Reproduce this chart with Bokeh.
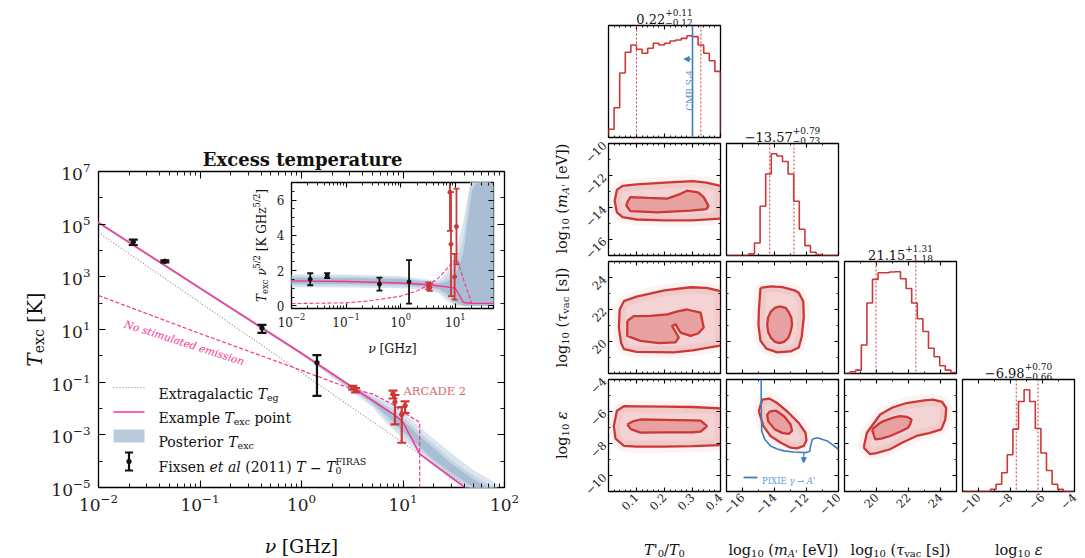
import math
import numpy as np
from bokeh.plotting import figure
from bokeh.models import (LinearAxis, LogAxis, FixedTicker, Range1d, LogScale,
                          Span, Arrow, NormalHead, CustomJSTickFormatter)
from bokeh.core.properties import value
from bokeh.embed import file_html
from bokeh.resources import INLINE

W, H = 1085, 558
SERIF = "DejaVu Serif"
PINK = "#f7338f"
RED = "#cc3838"
BLACK = "#111111"
BAND = ["#dbe5ef", "#c6d5e4", "#a9bed3"]
BLUE = "#3f7fbf"

# ---------------- data: left panel (main) ----------------
nu_eg = [0.01, 100.0]
T_eg = [4.8e4, 1.1e-6]

nu_example = [0.01, 0.1, 1.0, 3.3, 6.0, 8.4, 10.0, 14.6, 40.0, 100.0]
T_example = [1.15e5, 370.0, 1.25, 0.058, 0.0125, 5.4e-3, 3.0e-3, 1.9e-4, 1.05e-5, 4e-7]

nu_nostim = [0.01, 0.1, 1.0, 3.0, 5.0, 8.0, 10.0, 14.6, 14.6]
T_nostim = [195.0, 7.0, 0.28, 0.058, 0.036, 0.014, 0.0072, 0.003, 1e-7]

nu_post = [0.01, 0.1, 1, 3, 5, 7, 10, 14, 20, 30, 50, 80, 100]
logT_lo_95 = [5.00, 2.51, 0.03, -1.30, -1.95, -2.60, -3.15, -3.65, -4.20, -4.70, -5.20, -5.60, -5.80]
logT_hi_95 = [5.12, 2.63, 0.17, -1.05, -1.50, -1.75, -2.15, -2.65, -3.15, -3.70, -4.35, -4.80, -5.10]
logT_lo_68 = [5.02, 2.53, 0.05, -1.25, -1.85, -2.45, -3.00, -3.50, -4.05, -4.55, -5.10, -5.50, -5.70]
logT_hi_68 = [5.10, 2.61, 0.15, -1.08, -1.56, -1.90, -2.30, -2.85, -3.35, -3.95, -4.55, -5.00, -5.25]
logT_lo_50 = [5.04, 2.55, 0.07, -1.20, -1.78, -2.30, -2.85, -3.40, -3.95, -4.45, -5.00, -5.40, -5.60]
logT_hi_50 = [5.08, 2.59, 0.13, -1.12, -1.62, -2.00, -2.45, -3.00, -3.50, -4.10, -4.70, -5.15, -5.40]

nu_fixsen = [0.022, 0.045, 0.408, 1.42]
T_fixsen = [2.1e4, 3.9e3, 11.3, 0.55]
dT_fixsen = [4.8e3, 330.0, 3.8, 0.52]

nu_arcade = [3.20, 3.41, 7.97, 8.33, 9.72, 10.49]
T_arcade = [0.062, 0.050, 0.036, 0.0175, 0.0059, 0.0128]
dT_arcade = [0.010, 0.009, 0.012, 0.015, 0.0054, 0.006]

# ---------------- data: inset (T_exc * nu^(5/2)) ----------------
in_fixsen = [1.51, 1.72, 1.23, 1.36]
in_dfixsen = [0.34, 0.14, 0.37, 1.23]
in_arcade = [1.13, 1.05, 6.45, 3.50, 1.65, 4.50]
in_darcade = [0.20, 0.20, 2.20, 2.95, 1.30, 2.15]
in_nu_example = [0.01, 0.1, 1.0, 3.3, 6.0, 8.0, 10.0, 14.1, 20.0, 50.0]
in_example = [1.42, 1.38, 1.30, 1.20, 1.10, 1.05, 1.00, 0.19, 0.15, 0.14]
in_nu_nostim = [0.01, 0.1, 0.3, 1.0, 2.0, 3.3, 5.0, 7.0, 9.0, 10.8, 14.5, 20.0, 50.0]
in_nostim = [0.13, 0.17, 0.30, 0.55, 0.85, 1.20, 1.60, 2.10, 2.50, 2.65, 1.40, 0.13, 0.13]
in_nu_post = [0.01, 0.1, 1.0, 3.0, 5.0, 7.0, 10.0, 14.0, 20.0, 30.0, 50.0]
in_lo_95 = [1.05, 1.04, 1.00, 0.92, 0.70, 0.30, 0.0, 0.0, 0.0, 0.0, 0.0]
in_hi_95 = [1.80, 1.78, 1.70, 1.50, 1.45, 1.90, 2.90, 4.80, 7.50, 7.50, 7.50]
in_lo_68 = [1.15, 1.14, 1.10, 1.00, 0.85, 0.50, 0.05, 0.0, 0.0, 0.0, 0.0]
in_hi_68 = [1.70, 1.68, 1.60, 1.42, 1.36, 1.60, 2.30, 3.80, 7.50, 7.50, 7.50]
in_lo_50 = [1.25, 1.24, 1.20, 1.08, 0.95, 0.70, 0.20, 0.0, 0.0, 0.0, 0.0]
in_hi_50 = [1.60, 1.58, 1.52, 1.35, 1.26, 1.35, 1.80, 3.00, 6.50, 7.50, 7.50]

# ---------------- data: corner plot ----------------
rng_T = (0.0, 0.4)
rng_m = (-17.0, -10.0)
rng_tau = (18.0, 25.0)
rng_eps = (-11.0, -4.0)

hist_T = [25, 90, 195, 258, 280, 267, 255, 270, 285, 280, 285, 292, 295, 300, 308, 305, 280, 255, 232, 200]
hist_m = [0, 0, 0, 0, 5, 38, 150, 248, 310, 303, 286, 248, 165, 80, 30, 10, 3, 0, 0, 0]
hist_tau = [0, 5, 10, 85, 210, 280, 300, 300, 302, 303, 282, 253, 210, 163, 125, 75, 50, 23, 10, 3]
hist_eps = [0, 0, 0, 0, 0, 7, 22, 57, 112, 190, 274, 310, 274, 192, 117, 64, 22, 7, 0, 0]

q_T = [0.10, 0.33]
q_m = [-14.30, -12.78]
q_tau = [19.97, 22.46]
q_eps = [-7.64, -6.28]
titles = [("0.22", "+0.11", "\u22120.12"), ("\u221213.57", "+0.79", "\u22120.73"),
          ("21.15", "+1.31", "\u22121.18"), ("\u22126.98", "+0.70", "\u22120.66")]
cmbs4_T = 0.30

# contours (outer = 95%, inner = 68%)
c_Tm_out = ([0.4, 0.35, 0.3, 0.2, 0.1, 0.05, 0.03, 0.022, 0.03, 0.05, 0.1, 0.2, 0.3, 0.4],
            [-12.65, -12.45, -12.35, -12.45, -12.55, -12.65, -12.9, -13.6, -14.3, -14.6, -14.75, -14.8, -14.8, -14.7])
c_Tm_in = ([0.067, 0.078, 0.14, 0.21, 0.25, 0.28, 0.32, 0.34, 0.357, 0.35, 0.293, 0.174, 0.079, 0.064],
           [-13.67, -13.35, -13.4, -13.45, -13.2, -12.95, -13.05, -13.35, -13.9, -14.1, -14.2, -14.3, -14.23, -13.9])
c_Ttau_out = ([0.4, 0.35, 0.293, 0.2, 0.1, 0.055, 0.04, 0.037, 0.045, 0.055, 0.1, 0.233, 0.3, 0.394, 0.4],
              [23.15, 23.35, 23.39, 23.2, 22.8, 22.52, 22.0, 20.87, 19.9, 19.53, 19.35, 19.32, 19.45, 19.73, 19.76])
c_Ttau_in = ([0.067, 0.09, 0.15, 0.21, 0.25, 0.28, 0.329, 0.34, 0.32, 0.293, 0.257, 0.239, 0.227, 0.251, 0.239, 0.18, 0.114, 0.067],
             [21.28, 21.59, 21.6, 21.7, 21.9, 22.0, 21.8, 20.87, 20.5, 20.35, 20.56, 21.08, 20.97, 20.25, 19.94, 19.9, 20.04, 20.35])
c_mtau_out = ([-14.875, -14.2, -13.5, -12.75, -12.48, -12.2, -12.17, -12.3, -12.48, -13.0, -13.83, -14.5, -14.875, -15.0, -14.98],
              [23.35, 23.45, 23.4, 23.2, 23.04, 22.5, 21.49, 20.3, 19.63, 19.38, 19.32, 19.55, 20.04, 21.0, 21.9])
c_mtau_in = ([-13.68, -13.3, -13.13, -12.95, -12.9, -13.0, -13.13, -13.4, -13.68, -13.98, -14.23, -14.4, -14.46, -14.4, -14.23, -13.98],
             [22.2, 22.1, 21.86, 21.5, 21.05, 20.6, 20.24, 19.98, 19.9, 19.98, 20.24, 20.6, 21.05, 21.5, 21.86, 22.1])
c_Teps_out = ([0.4, 0.3, 0.2, 0.1, 0.055, 0.03, 0.019, 0.025, 0.055, 0.1, 0.2, 0.3, 0.4],
              [-5.8, -5.72, -5.7, -5.68, -5.67, -5.95, -6.91, -7.7, -8.15, -8.2, -8.2, -8.17, -8.1])
c_Teps_in = ([0.067, 0.09, 0.114, 0.2, 0.3, 0.329, 0.352, 0.329, 0.3, 0.2, 0.114, 0.08],
             [-6.81, -6.6, -6.5, -6.52, -6.55, -6.57, -6.91, -7.26, -7.3, -7.3, -7.32, -7.1])
c_meps_out = ([-14.98, -14.77, -14.3, -13.83, -13.2, -12.5, -12.06, -12.0, -12.17, -12.6, -13.0, -13.6, -14.25, -14.7],
              [-5.98, -5.26, -5.2, -5.47, -6.0, -6.7, -7.33, -7.8, -8.15, -8.3, -8.26, -7.95, -7.53, -6.9])
c_meps_in = ([-14.3, -13.9, -13.4, -13.0, -12.9, -13.1, -13.5, -14.0, -14.4, -14.46],
             [-6.0, -5.95, -6.3, -6.8, -7.2, -7.4, -7.35, -7.1, -6.6, -6.2])
c_taueps_out = ([19.2, 19.4, 20.23, 21.0, 21.88, 23.0, 23.53, 24.1, 24.36, 24.3, 24.05, 23.3, 22.5, 21.6, 20.85, 20.0, 19.6],
                [-8.26, -7.33, -6.19, -5.75, -5.47, -5.3, -5.26, -5.4, -5.78, -6.5, -7.12, -7.35, -7.53, -7.95, -8.36, -8.6, -8.67])
c_taueps_in = ([19.72, 20.1, 20.44, 21.0, 21.47, 21.9, 22.19, 22.1, 21.98, 21.5, 20.85, 20.3, 19.92],
               [-7.12, -6.8, -6.6, -6.4, -6.29, -6.33, -6.5, -6.8, -7.01, -7.25, -7.53, -7.7, -7.74])
pixie_m = [-14.83, -14.83, -14.8, -14.6, -14.25, -13.83, -13.42, -12.8, -12.06, -11.8, -11.75, -11.64, -11.33, -10.7, -10.0]
pixie_eps = [-3.9, -5.5, -7.22, -7.75, -8.15, -8.34, -8.46, -8.53, -8.57, -8.5, -8.2, -7.74, -7.64, -7.84, -8.36]
pixie_arrow_m = -12.17

# ---------------- helpers ----------------
WID = {'0': .636, '1': .636, '2': .636, '3': .636, '4': .636, '5': .636, '6': .636, '7': .636,
       '8': .636, '9': .636, ' ': .318, '.': .318, ',': .318, '(': .39, ')': .39, '[': .39, ']': .39,
       '/': .337, '+': .838, '\u2212': .838, '-': .338, "'": .275, '\u2192': .838,
       'a': .596, 'b': .640, 'c': .560, 'd': .640, 'e': .592, 'f': .370, 'g': .640, 'h': .644,
       'i': .320, 'j': .310, 'k': .606, 'l': .320, 'm': .948, 'n': .644, 'o': .602, 'p': .640,
       'q': .640, 'r': .478, 's': .513, 't': .402, 'u': .644, 'v': .565, 'w': .856, 'x': .564,
       'y': .565, 'z': .527, 'A': .722, 'B': .735, 'C': .765, 'D': .802, 'E': .730, 'F': .694,
       'G': .799, 'H': .872, 'I': .395, 'K': .747, 'L': .664, 'M': 1.024, 'N': .875, 'O': .820,
       'P': .673, 'R': .753, 'S': .685, 'T': .667, 'X': .712, '\u03bd': .57, '\u03b5': .5,
       '\u03c4': .55, '\u03b3': .57}


def tw(s, size, style="normal"):
    w = sum(WID.get(ch, 0.6) for ch in s) * size
    return w * 1.08 if style == "bold" else w


def N(t, s, r=0.0, adv=True):
    return (t, s, r, "normal", adv)


def It(t, s, r=0.0, adv=True):
    return (t, s, r, "italic", adv)


ABS = {"position": "absolute", "left": "0px", "top": "0px"}


def mkfig(xr, yr, box, xlog=False, ylog=False, bg="white"):
    l, t, r, b = box
    p = figure(width=W, height=H, x_range=xr, y_range=yr, x_axis_type=None, y_axis_type=None,
               toolbar_location=None, output_backend="svg",
               min_border_left=l, min_border_right=W - r, min_border_top=t, min_border_bottom=H - b)
    if xlog:
        p.x_scale = LogScale()
    if ylog:
        p.y_scale = LogScale()
    p.border_fill_color = None
    p.background_fill_color = bg
    p.outline_line_color = "black"
    p.outline_line_width = 1.3
    p.styles = dict(ABS)
    return p


def add_axis(p, side, cls, ticks, minor, fs=12, show=False, orient=None, fmt=None,
             standoff=5, tin=5, tmin=3):
    ax = cls(ticker=FixedTicker(ticks=ticks, minor_ticks=minor))
    ax.axis_line_color = None
    ax.major_tick_in = int(tin)
    ax.major_tick_out = 0
    ax.minor_tick_in = int(tmin)
    ax.minor_tick_out = 0
    ax.major_tick_line_width = 1.1
    ax.minor_tick_line_width = 0.9
    ax.major_label_text_font = SERIF
    ax.major_label_text_font_size = f"{fs}px"
    ax.major_label_standoff = int(standoff)
    ax.major_label_text_color = "#222222" if show else None
    if orient is not None:
        ax.major_label_orientation = orient
    if fmt is not None:
        ax.formatter = fmt
    p.add_layout(ax, side)
    return ax


def errbars(p, x, y, e, color, cap=8, lw=2.0, dot=4.5):
    lo = [a - b for a, b in zip(y, e)]
    hi = [a + b for a, b in zip(y, e)]
    p.segment(x0=x, y0=lo, x1=x, y1=hi, line_color=color, line_width=lw)
    p.scatter(x=x, y=lo, marker="dash", size=cap, line_color=color, line_width=lw)
    p.scatter(x=x, y=hi, marker="dash", size=cap, line_color=color, line_width=lw)
    p.scatter(x=x, y=y, marker="circle", size=dot, fill_color=color, line_color=color)


def decades(lo, hi):
    return [k * 10.0 ** e for e in range(lo, hi) for k in range(2, 10)]


figs = []

# ================= main panel =================
pm = mkfig(Range1d(0.01, 100), Range1d(1e-5, 1e7), (98, 171, 504, 487), True, True)
for (lo, hi), c in zip([(logT_lo_95, logT_hi_95), (logT_lo_68, logT_hi_68), (logT_lo_50, logT_hi_50)], BAND):
    pm.varea(x=nu_post, y1=[10 ** v for v in lo], y2=[10 ** v for v in hi], fill_color=c)
pm.line(nu_eg, T_eg, line_color="#8a8a8a", line_width=1.1, line_dash="1 2")
pm.line(nu_nostim, T_nostim, line_color=PINK, line_width=1.2, line_dash="4 2")
pm.line(nu_example, T_example, line_color=PINK, line_width=1.5)
errbars(pm, nu_fixsen, T_fixsen, dT_fixsen, BLACK, cap=9, lw=2.2)
errbars(pm, nu_arcade, T_arcade, dT_arcade, RED, cap=9, lw=2.2)
xmaj = [0.01, 0.1, 1, 10, 100]
ymaj = [1e-5, 1e-3, 1e-1, 1e1, 1e3, 1e5, 1e7]
ymin = [1e-4, 1e-2, 1, 1e2, 1e4, 1e6]
add_axis(pm, "below", LogAxis, xmaj, decades(-2, 2), fs=17, show=True, standoff=6, tin=7, tmin=4)
add_axis(pm, "above", LogAxis, xmaj, decades(-2, 2), tin=7, tmin=4)
add_axis(pm, "left", LogAxis, ymaj, ymin, fs=17, show=True, standoff=8, tin=7, tmin=4)
add_axis(pm, "right", LogAxis, ymaj, ymin, tin=7, tmin=4)
figs.append(pm)

# ================= inset =================
pi_ = mkfig(Range1d(0.01, 50), Range1d(-0.15, 7.0), (291, 182, 493, 308), True, False)
for (lo, hi), c in zip([(in_lo_95, in_hi_95), (in_lo_68, in_hi_68), (in_lo_50, in_hi_50)], BAND):
    pi_.varea(x=in_nu_post, y1=lo, y2=hi, fill_color=c)
pi_.line(in_nu_nostim, in_nostim, line_color=PINK, line_width=1.1, line_dash="4 2")
pi_.line(in_nu_example, in_example, line_color=PINK, line_width=1.4)
errbars(pi_, nu_fixsen, in_fixsen, in_dfixsen, BLACK, cap=6, lw=1.8, dot=4)
errbars(pi_, nu_arcade, in_arcade, in_darcade, RED, cap=6, lw=1.8, dot=4)
add_axis(pi_, "below", LogAxis, [0.01, 0.1, 1, 10], decades(-2, 2), fs=12, show=True, standoff=4)
add_axis(pi_, "above", LogAxis, [0.01, 0.1, 1, 10], decades(-2, 2))
add_axis(pi_, "left", LinearAxis, [0, 2, 4, 6], [0.5 * k for k in range(0, 15)], fs=12, show=True, standoff=7)
add_axis(pi_, "right", LinearAxis, [0, 2, 4, 6], [0.5 * k for k in range(0, 15)])
figs.append(pi_)

# ================= corner =================
cols = [608, 726, 844, 962]
rows = [25, 143, 261, 379]
S = 112
params = [rng_T, rng_m, rng_tau, rng_eps]
hists = [hist_T, hist_m, hist_tau, hist_eps]
quants = [q_T, q_m, q_tau, q_eps]
majors = [[0.1, 0.2, 0.3, 0.4], [-16, -14, -12, -10], [20, 22, 24], [-10, -8, -6, -4]]
minors = [[0.02 * k for k in range(0, 21)], list(range(-17, -9)), list(range(18, 26)), list(range(-11, -3))]
fmt = CustomJSTickFormatter(code="var v = Math.round(tick*100)/100; return v.toString().replace('-', '\u2212');")


def corner_axes(p, i, j, row_param):
    xl = (i == 3)
    add_axis(p, "below", LinearAxis, majors[j], minors[j], fs=11.5, show=xl,
             orient=math.pi / 4 if xl else None, fmt=fmt, standoff=4, tin=4, tmin=2)
    add_axis(p, "above", LinearAxis, majors[j], minors[j], tin=4, tmin=2)
    if row_param is not None:
        yl = (j == 0)
        add_axis(p, "left", LinearAxis, majors[row_param], minors[row_param], fs=11.5, show=yl,
                 orient=math.pi / 4 if yl else None, fmt=fmt, standoff=4, tin=4, tmin=2)
        add_axis(p, "right", LinearAxis, majors[row_param], minors[row_param], tin=4, tmin=2)


# diagonal histograms
for k in range(4):
    counts = hists[k]
    ymax = 1.1 * max(counts)
    p = mkfig(Range1d(*params[k]), Range1d(0, ymax), (cols[k], rows[k], cols[k] + S, rows[k] + S))
    edges = np.linspace(params[k][0], params[k][1], len(counts) + 1)
    xs, ys = [edges[0]], [0]
    for b, c in enumerate(counts):
        xs += [edges[b], edges[b + 1]]
        ys += [c, c]
    xs.append(edges[-1])
    ys.append(0)
    p.line(xs, ys, line_color=RED, line_width=1.6)
    for q in quants[k]:
        p.add_layout(Span(location=q, dimension="height", line_color=RED, line_width=1.0,
                          line_dash="2 2"))
    if k == 0:
        p.add_layout(Span(location=cmbs4_T, dimension="height", line_color=BLUE, line_width=1.6))
        p.add_layout(Arrow(end=NormalHead(size=5, fill_color=BLUE, line_color=BLUE),
                           x_start=cmbs4_T - 0.005, y_start=0.7 * ymax, x_end=cmbs4_T - 0.03,
                           y_end=0.7 * ymax, line_color=BLUE, line_width=1.2))
    corner_axes(p, k, k, None)
    figs.append(p)

# off-diagonal 2D panels: (row, col, contours)
panels = [
    (1, 0, c_Tm_out, c_Tm_in, False),
    (2, 0, c_Ttau_out, c_Ttau_in, False),
    (2, 1, c_mtau_out, c_mtau_in, True),
    (3, 0, c_Teps_out, c_Teps_in, False),
    (3, 1, c_meps_out, c_meps_in, True),
    (3, 2, c_taueps_out, c_taueps_in, True),
]
for (i, j, cout, cin, closed) in panels:
    p = mkfig(Range1d(*params[j]), Range1d(*params[i]), (cols[j], rows[i], cols[j] + S, rows[i] + S))
    ox, oy = list(cout[0]), list(cout[1])
    ix, iy = list(cin[0]) + [cin[0][0]], list(cin[1]) + [cin[1][0]]
    p.patch(ox, oy, fill_color=RED, fill_alpha=0.07, line_color=RED, line_alpha=0.06, line_width=12)
    p.patch(ox, oy, fill_color=RED, fill_alpha=0.16, line_color=None)
    p.patch(ix, iy, fill_color=RED, fill_alpha=0.32, line_color=None)
    if closed:
        ox, oy = ox + [ox[0]], oy + [oy[0]]
    p.line(ox, oy, line_color=RED, line_width=2.3)
    p.line(ix, iy, line_color=RED, line_width=2.3)
    if (i, j) == (3, 1):
        p.line(pixie_m, pixie_eps, line_color=BLUE, line_width=1.6)
        p.add_layout(Arrow(end=NormalHead(size=5, fill_color=BLUE, line_color=BLUE),
                           x_start=pixie_arrow_m, y_start=-8.57, x_end=pixie_arrow_m, y_end=-9.2,
                           line_color=BLUE, line_width=1.2))
    corner_axes(p, i, j, i)
    figs.append(p)

# ================= overlay for texts / legend =================
ov = figure(width=W, height=H, x_range=Range1d(0, W), y_range=Range1d(H, 0), x_axis_type=None,
            y_axis_type=None, toolbar_location=None, output_backend="svg",
            min_border_left=0, min_border_right=0, min_border_top=0, min_border_bottom=0)
ov.outline_line_color = None
ov.background_fill_color = None
ov.border_fill_color = None
ov.styles = dict(ABS)


def rich(parts, x, y, align="center", angle=0.0, color="#111111"):
    ca, sa = math.cos(angle), math.sin(angle)
    along = (ca, -sa)
    up = (-sa, -ca)
    total = sum(tw(t, s, st) for (t, s, r, st, adv) in parts if adv)
    cur = -total / 2 if align == "center" else (-total if align == "right" else 0.0)
    for (t, s, r, st, adv) in parts:
        lead = len(t) - len(t.lstrip(" "))
        txt = t.strip(" ")
        off = cur + tw(" " * lead, s)
        px = x + along[0] * off + up[0] * r
        py = y + along[1] * off + up[1] * r
        if txt:
            ov.text(x=[px], y=[py], text=[txt], angle=angle, text_font=value(SERIF),
                    text_font_size=f"{s}px", text_font_style=st, text_color=color,
                    text_baseline="alphabetic", text_align="left")
        if adv:
            cur += tw(t, s, st)


# main panel texts
rich([("Excess temperature", 18, 0, "bold", True)], 301, 159)
rich([It("T", 20), N("exc", 14, -4.5), N(" [K]", 20)], 34, 329, angle=math.pi / 2)
rich([It("\u03bd", 19), N(" [GHz]", 19)], 301, 545)
rich([It("No stimulated emission", 10.5)], 184, 342, angle=-0.31, color=PINK)
rich([N("ARCADE 2", 11.5)], 403, 390, align="left", color="#d46a6a")

# legend
LX0, LX1, TX = 113, 144, 158
ov.segment(x0=[LX0], y0=[387], x1=[LX1], y1=[387], line_color="#8a8a8a", line_width=1.1, line_dash="1 2")
ov.segment(x0=[LX0], y0=[411.5], x1=[LX1], y1=[411.5], line_color=PINK, line_width=1.6)
ov.quad(left=[LX0], right=[LX1], top=[429], bottom=[442], fill_color="#bccbdc", line_color=None)
ov.segment(x0=[128.5], y0=[452], x1=[128.5], y1=[470], line_color=BLACK, line_width=2.2)
ov.scatter(x=[128.5, 128.5], y=[452, 470], marker="dash", size=8, line_color=BLACK, line_width=2.2)
ov.scatter(x=[128.5], y=[461], marker="circle", size=4.5, fill_color=BLACK, line_color=BLACK)
LS = 14
SS = 9.5
rich([N("Extragalactic ", LS), It("T", LS), N("eg", SS, -3.5)], TX, 393, align="left")
rich([N("Example ", LS), It("T", LS), N("exc", SS, -3.5), N(" point", LS)], TX, 417.5, align="left")
rich([N("Posterior ", LS), It("T", LS), N("exc", SS, -3.5)], TX, 441.5, align="left")
rich([N("Fixsen ", LS), It("et al", LS), N(" (2011) ", LS), It("T", LS), N(" \u2212 ", LS), It("T", LS),
      N("0", SS, -3.5, adv=False), N("FIRAS", SS, 5.5)], TX, 466.5, align="left")

# inset labels
rich([It("T", 12), N("exc", 8.5, -3), It(" \u03bd", 12), N("5/2", 8.5, 4.5), N(" [K GHz", 12),
      N("5/2", 8.5, 4.5), N("]", 12)], 261, 245, angle=math.pi / 2)
rich([It("\u03bd", 12.5), N(" [GHz]", 12.5)], 392, 348)

# corner titles
for k, (mid, sup, sub) in enumerate(titles):
    cx = cols[k] + S / 2
    by = rows[k] - 7
    rich([N(mid, 13), N(sub, 9, -3.5, adv=False), N(sup, 9, 6)], cx, by)

# corner axis labels
CS = 14.5
CSS = 10
xlabels = [
    [It("T'", CS), N("0", CSS, -3.5), N("/", CS), It("T", CS), N("0", CSS, -3.5)],
    [N("log", CS), N("10", CSS, -3.5), N(" (", CS), It("m", CS), It("A'", CSS, -3.5), N(" [eV])", CS)],
    [N("log", CS), N("10", CSS, -3.5), N(" (", CS), It("\u03c4", CS), N("vac", CSS, -3.5), N(" [s])", CS)],
    [N("log", CS), N("10", CSS, -3.5), It(" \u03b5", CS)],
]
for k in range(4):
    rich(xlabels[k], cols[k] + S / 2, 549)
for k in range(1, 4):
    rich(xlabels[k], 561, rows[k] + S / 2, angle=math.pi / 2)

# annotations inside corner panels
rich([N("CMB S-4", 9)], 689, 90, angle=math.pi / 2, color="#5b8fc7")
ov.segment(x0=[743], y0=[477], x1=[757], y1=[477], line_color=BLUE, line_width=1.8)
rich([N("PIXIE ", 8.5), It("\u03b3", 8.5), N(" \u2192 ", 8.5), It("A'", 8.5)], 761.5, 480, align="left", color="#5b9bd5")

figs.append(ov)

open("out.html", "w").write(file_html(figs, INLINE))
